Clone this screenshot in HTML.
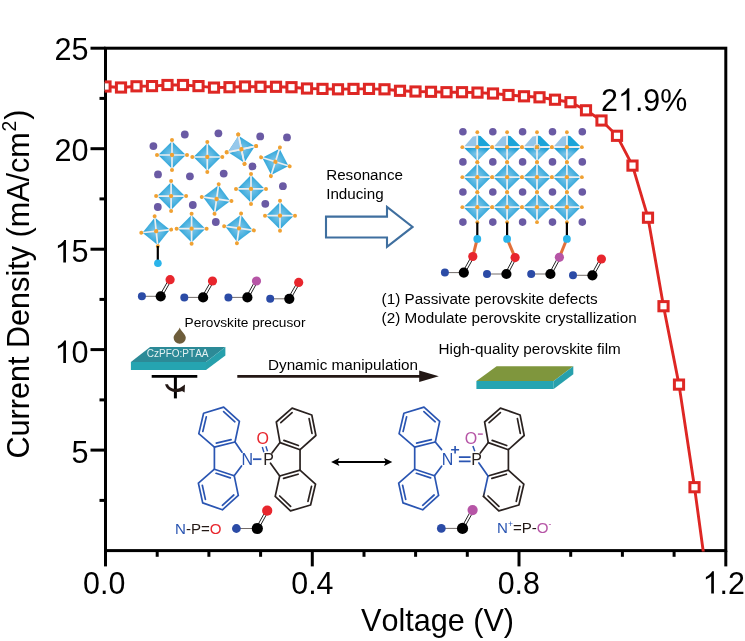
<!DOCTYPE html>
<html><head><meta charset="utf-8"><title>J-V curve</title>
<style>html,body{margin:0;padding:0;background:#fff}svg{display:block;will-change:transform;transform:translateZ(0)}text{font-family:"Liberation Sans",sans-serif;font-kerning:none}</style></head><body>
<svg width="745" height="641" viewBox="0 0 745 641">
<defs>
<radialGradient id="og" cx="50%" cy="50%" r="50%"><stop offset="0" stop-color="#86c8ea"/><stop offset="0.55" stop-color="#4fb3e0"/><stop offset="1" stop-color="#1e9fd6"/></radialGradient>
<clipPath id="plot"><rect x="104.7" y="47.4" width="621.9" height="504.0"/></clipPath>
</defs>
<rect width="745" height="641" fill="#fff"/>
<g transform="translate(172.0,155.0)"><polygon points="0,-13.8 13.8,0 0,13.8 -13.8,0" fill="url(#og)"/><path d="M0,-15V15M-15,0H15" stroke="#eceeef" stroke-width="1.7" fill="none"/><g fill="#f0a132"><circle cx="0" cy="-15" r="2"/><circle cx="15" cy="0" r="2"/><circle cx="0" cy="15" r="2"/><circle cx="-15" cy="0" r="2"/><circle cx="0" cy="0" r="2.15"/></g></g>
<g transform="translate(207.3,157.0)"><polygon points="0,-13.8 13.8,0 0,13.8 -13.8,0" fill="url(#og)"/><path d="M0,-15V15M-15,0H15" stroke="#eceeef" stroke-width="1.7" fill="none"/><g fill="#f0a132"><circle cx="0" cy="-15" r="2"/><circle cx="15" cy="0" r="2"/><circle cx="0" cy="15" r="2"/><circle cx="-15" cy="0" r="2"/><circle cx="0" cy="0" r="2.15"/></g></g>
<g transform="translate(241.4,149.2) rotate(-12.0)"><polygon points="0,-13.8 13.8,0 0,13.8 -13.8,0" fill="url(#og)"/><path d="M0,-15V15M-15,0H15" stroke="#eceeef" stroke-width="1.7" fill="none"/><g fill="#f0a132"><circle cx="0" cy="-15" r="2"/><circle cx="15" cy="0" r="2"/><circle cx="0" cy="15" r="2"/><circle cx="-15" cy="0" r="2"/><circle cx="0" cy="0" r="2.15"/></g></g>
<g transform="translate(275.4,161.8) rotate(17.5)"><polygon points="0,-13.8 13.8,0 0,13.8 -13.8,0" fill="url(#og)"/><path d="M0,-15V15M-15,0H15" stroke="#eceeef" stroke-width="1.7" fill="none"/><g fill="#f0a132"><circle cx="0" cy="-15" r="2"/><circle cx="15" cy="0" r="2"/><circle cx="0" cy="15" r="2"/><circle cx="-15" cy="0" r="2"/><circle cx="0" cy="0" r="2.15"/></g></g>
<g transform="translate(171.1,196.1)"><polygon points="0,-13.8 13.8,0 0,13.8 -13.8,0" fill="url(#og)"/><path d="M0,-15V15M-15,0H15" stroke="#eceeef" stroke-width="1.7" fill="none"/><g fill="#f0a132"><circle cx="0" cy="-15" r="2"/><circle cx="15" cy="0" r="2"/><circle cx="0" cy="15" r="2"/><circle cx="-15" cy="0" r="2"/><circle cx="0" cy="0" r="2.15"/></g></g>
<g transform="translate(216.6,199.0) rotate(8.0)"><polygon points="0,-13.8 13.8,0 0,13.8 -13.8,0" fill="url(#og)"/><path d="M0,-15V15M-15,0H15" stroke="#eceeef" stroke-width="1.7" fill="none"/><g fill="#f0a132"><circle cx="0" cy="-15" r="2"/><circle cx="15" cy="0" r="2"/><circle cx="0" cy="15" r="2"/><circle cx="-15" cy="0" r="2"/><circle cx="0" cy="0" r="2.15"/></g></g>
<g transform="translate(251.0,188.9)"><polygon points="0,-13.8 13.8,0 0,13.8 -13.8,0" fill="url(#og)"/><path d="M0,-15V15M-15,0H15" stroke="#eceeef" stroke-width="1.7" fill="none"/><g fill="#f0a132"><circle cx="0" cy="-15" r="2"/><circle cx="15" cy="0" r="2"/><circle cx="0" cy="15" r="2"/><circle cx="-15" cy="0" r="2"/><circle cx="0" cy="0" r="2.15"/></g></g>
<g transform="translate(280.0,215.7)"><polygon points="0,-13.8 13.8,0 0,13.8 -13.8,0" fill="url(#og)"/><path d="M0,-15V15M-15,0H15" stroke="#eceeef" stroke-width="1.7" fill="none"/><g fill="#f0a132"><circle cx="0" cy="-15" r="2"/><circle cx="15" cy="0" r="2"/><circle cx="0" cy="15" r="2"/><circle cx="-15" cy="0" r="2"/><circle cx="0" cy="0" r="2.15"/></g></g>
<g transform="translate(156.2,231.2) rotate(-6.0)"><polygon points="0,-13.8 13.8,0 0,13.8 -13.8,0" fill="url(#og)"/><path d="M0,-15V15M-15,0H15" stroke="#eceeef" stroke-width="1.7" fill="none"/><g fill="#f0a132"><circle cx="0" cy="-15" r="2"/><circle cx="15" cy="0" r="2"/><circle cx="0" cy="15" r="2"/><circle cx="-15" cy="0" r="2"/><circle cx="0" cy="0" r="2.15"/></g></g>
<g transform="translate(191.6,228.7)"><polygon points="0,-13.8 13.8,0 0,13.8 -13.8,0" fill="url(#og)"/><path d="M0,-15V15M-15,0H15" stroke="#eceeef" stroke-width="1.7" fill="none"/><g fill="#f0a132"><circle cx="0" cy="-15" r="2"/><circle cx="15" cy="0" r="2"/><circle cx="0" cy="15" r="2"/><circle cx="-15" cy="0" r="2"/><circle cx="0" cy="0" r="2.15"/></g></g>
<g transform="translate(239.0,228.3) rotate(8.0)"><polygon points="0,-13.8 13.8,0 0,13.8 -13.8,0" fill="url(#og)"/><path d="M0,-15V15M-15,0H15" stroke="#eceeef" stroke-width="1.7" fill="none"/><g fill="#f0a132"><circle cx="0" cy="-15" r="2"/><circle cx="15" cy="0" r="2"/><circle cx="0" cy="15" r="2"/><circle cx="-15" cy="0" r="2"/><circle cx="0" cy="0" r="2.15"/></g></g>
<g transform="translate(241.4,149.2) rotate(-12)"><polygon points="0,-13.8 -13.8,0 0,0" fill="#96c8eb"/></g>
<g transform="translate(241.4,149.2) rotate(-12.0)"><path d="M0,-15V15M-15,0H15" stroke="#eceeef" stroke-width="1.7" fill="none"/><g fill="#f0a132"><circle cx="0" cy="-15" r="2"/><circle cx="15" cy="0" r="2"/><circle cx="0" cy="15" r="2"/><circle cx="-15" cy="0" r="2"/><circle cx="0" cy="0" r="2.15"/></g></g>
<circle cx="153.4" cy="146.1" r="3.9" fill="#6a5aa4"/>
<circle cx="184.8" cy="134.5" r="3.9" fill="#6a5aa4"/>
<circle cx="218.4" cy="133.3" r="3.9" fill="#6a5aa4"/>
<circle cx="260.2" cy="136.4" r="3.9" fill="#6a5aa4"/>
<circle cx="287.0" cy="137.4" r="3.9" fill="#6a5aa4"/>
<circle cx="158.0" cy="174.4" r="3.9" fill="#6a5aa4"/>
<circle cx="189.9" cy="176.3" r="3.9" fill="#6a5aa4"/>
<circle cx="223.7" cy="173.6" r="3.9" fill="#6a5aa4"/>
<circle cx="252.5" cy="166.4" r="3.9" fill="#6a5aa4"/>
<circle cx="282.9" cy="186.2" r="3.9" fill="#6a5aa4"/>
<circle cx="157.8" cy="207.0" r="3.9" fill="#6a5aa4"/>
<circle cx="192.8" cy="205.0" r="3.9" fill="#6a5aa4"/>
<circle cx="215.8" cy="222.0" r="3.9" fill="#6a5aa4"/>
<circle cx="265.3" cy="203.8" r="3.9" fill="#6a5aa4"/>
<path d="M157.8,246V260" stroke="#000" stroke-width="2.2"/>
<circle cx="157.9" cy="263.2" r="3.8" fill="#2ab4ea"/>
<path d="M141.9,296.3L160.7,296.3" stroke="#6a6361" stroke-width="0.95"/>
<path d="M161.8,296.9L171.2,280.3M159.6,295.7L169.0,279.1" stroke="#222" stroke-width="1"/>
<circle cx="141.9" cy="296.3" r="4.0" fill="#2b4ba6"/>
<circle cx="160.7" cy="296.3" r="5.1" fill="#000"/>
<circle cx="170.1" cy="279.7" r="4.6" fill="#e8262d"/>
<path d="M184.3,297.4L203.1,297.4" stroke="#6a6361" stroke-width="0.95"/>
<path d="M204.2,298.0L213.6,281.6M202.0,296.8L211.4,280.4" stroke="#222" stroke-width="1"/>
<circle cx="184.3" cy="297.4" r="4.0" fill="#2b4ba6"/>
<circle cx="203.1" cy="297.4" r="5.1" fill="#000"/>
<circle cx="212.5" cy="281.0" r="4.6" fill="#e8262d"/>
<path d="M228.4,297.4L247.4,297.4" stroke="#6a6361" stroke-width="0.95"/>
<path d="M248.5,298.0L257.6,281.6M246.3,296.8L255.4,280.4" stroke="#222" stroke-width="1"/>
<circle cx="228.4" cy="297.4" r="4.0" fill="#2b4ba6"/>
<circle cx="247.4" cy="297.4" r="5.1" fill="#000"/>
<circle cx="256.5" cy="281.0" r="4.6" fill="#b655a6"/>
<path d="M270.2,298.8L289.3,298.8" stroke="#6a6361" stroke-width="0.95"/>
<path d="M290.4,299.4L299.8,283.0M288.2,298.2L297.6,281.8" stroke="#222" stroke-width="1"/>
<circle cx="270.2" cy="298.8" r="4.0" fill="#2b4ba6"/>
<circle cx="289.3" cy="298.8" r="5.1" fill="#000"/>
<circle cx="298.7" cy="282.4" r="4.6" fill="#e8262d"/>
<g transform="translate(477.3,147.2)"><polygon points="-13.8,0 13.8,0 0,13.8" fill="url(#og)"/><polygon points="-12.9,-1 -4.4,-10.6 -0.6,-11.2 -0.6,-0.6" fill="#93c5e9"/><polygon points="0.6,-0.6 0.6,-11.6 3.2,-11.2 13.2,-1.2" fill="#1ba4d9"/><path d="M0,-15V15M-15,0H15" stroke="#eceeef" stroke-width="1.7" fill="none"/><g fill="#f0a132"><circle cx="0" cy="-15" r="1.9"/><circle cx="15" cy="0" r="1.9"/><circle cx="0" cy="15" r="1.9"/><circle cx="-15" cy="0" r="1.9"/><circle cx="0" cy="0" r="2.1"/></g></g>
<g transform="translate(507.1,147.2)"><polygon points="-13.8,0 13.8,0 0,13.8" fill="url(#og)"/><polygon points="-12.9,-1 -4.4,-10.6 -0.6,-11.2 -0.6,-0.6" fill="#93c5e9"/><polygon points="0.6,-0.6 0.6,-11.6 3.2,-11.2 13.2,-1.2" fill="#1ba4d9"/><path d="M0,-15V15M-15,0H15" stroke="#eceeef" stroke-width="1.7" fill="none"/><g fill="#f0a132"><circle cx="0" cy="-15" r="1.9"/><circle cx="15" cy="0" r="1.9"/><circle cx="0" cy="15" r="1.9"/><circle cx="-15" cy="0" r="1.9"/><circle cx="0" cy="0" r="2.1"/></g></g>
<g transform="translate(537.0,147.2)"><polygon points="-13.8,0 13.8,0 0,13.8" fill="url(#og)"/><polygon points="-12.9,-1 -4.4,-10.6 -0.6,-11.2 -0.6,-0.6" fill="#93c5e9"/><polygon points="0.6,-0.6 0.6,-11.6 3.2,-11.2 13.2,-1.2" fill="#1ba4d9"/><path d="M0,-15V15M-15,0H15" stroke="#eceeef" stroke-width="1.7" fill="none"/><g fill="#f0a132"><circle cx="0" cy="-15" r="1.9"/><circle cx="15" cy="0" r="1.9"/><circle cx="0" cy="15" r="1.9"/><circle cx="-15" cy="0" r="1.9"/><circle cx="0" cy="0" r="2.1"/></g></g>
<g transform="translate(566.9,147.2)"><polygon points="-13.8,0 13.8,0 0,13.8" fill="url(#og)"/><polygon points="-12.9,-1 -4.4,-10.6 -0.6,-11.2 -0.6,-0.6" fill="#93c5e9"/><polygon points="0.6,-0.6 0.6,-11.6 3.2,-11.2 13.2,-1.2" fill="#1ba4d9"/><path d="M0,-15V15M-15,0H15" stroke="#eceeef" stroke-width="1.7" fill="none"/><g fill="#f0a132"><circle cx="0" cy="-15" r="1.9"/><circle cx="15" cy="0" r="1.9"/><circle cx="0" cy="15" r="1.9"/><circle cx="-15" cy="0" r="1.9"/><circle cx="0" cy="0" r="2.1"/></g></g>
<g transform="translate(477.3,177.2)"><polygon points="0,-13.8 13.8,0 0,13.8 -13.8,0" fill="url(#og)"/><path d="M0,-15V15M-15,0H15" stroke="#eceeef" stroke-width="1.7" fill="none"/><g fill="#f0a132"><circle cx="0" cy="-15" r="1.9"/><circle cx="15" cy="0" r="1.9"/><circle cx="0" cy="15" r="1.9"/><circle cx="-15" cy="0" r="1.9"/><circle cx="0" cy="0" r="2.1"/></g></g>
<g transform="translate(507.1,177.2)"><polygon points="0,-13.8 13.8,0 0,13.8 -13.8,0" fill="url(#og)"/><path d="M0,-15V15M-15,0H15" stroke="#eceeef" stroke-width="1.7" fill="none"/><g fill="#f0a132"><circle cx="0" cy="-15" r="1.9"/><circle cx="15" cy="0" r="1.9"/><circle cx="0" cy="15" r="1.9"/><circle cx="-15" cy="0" r="1.9"/><circle cx="0" cy="0" r="2.1"/></g></g>
<g transform="translate(537.0,177.2)"><polygon points="0,-13.8 13.8,0 0,13.8 -13.8,0" fill="url(#og)"/><path d="M0,-15V15M-15,0H15" stroke="#eceeef" stroke-width="1.7" fill="none"/><g fill="#f0a132"><circle cx="0" cy="-15" r="1.9"/><circle cx="15" cy="0" r="1.9"/><circle cx="0" cy="15" r="1.9"/><circle cx="-15" cy="0" r="1.9"/><circle cx="0" cy="0" r="2.1"/></g></g>
<g transform="translate(566.9,177.2)"><polygon points="0,-13.8 13.8,0 0,13.8 -13.8,0" fill="url(#og)"/><path d="M0,-15V15M-15,0H15" stroke="#eceeef" stroke-width="1.7" fill="none"/><g fill="#f0a132"><circle cx="0" cy="-15" r="1.9"/><circle cx="15" cy="0" r="1.9"/><circle cx="0" cy="15" r="1.9"/><circle cx="-15" cy="0" r="1.9"/><circle cx="0" cy="0" r="2.1"/></g></g>
<g transform="translate(477.3,207.2)"><polygon points="0,-13.8 13.8,0 0,13.8 -13.8,0" fill="url(#og)"/><path d="M0,-15V15M-15,0H15" stroke="#eceeef" stroke-width="1.7" fill="none"/><g fill="#f0a132"><circle cx="0" cy="-15" r="1.9"/><circle cx="15" cy="0" r="1.9"/><circle cx="0" cy="15" r="1.9"/><circle cx="-15" cy="0" r="1.9"/><circle cx="0" cy="0" r="2.1"/></g></g>
<g transform="translate(507.1,207.2)"><polygon points="0,-13.8 13.8,0 0,13.8 -13.8,0" fill="url(#og)"/><path d="M0,-15V15M-15,0H15" stroke="#eceeef" stroke-width="1.7" fill="none"/><g fill="#f0a132"><circle cx="0" cy="-15" r="1.9"/><circle cx="15" cy="0" r="1.9"/><circle cx="0" cy="15" r="1.9"/><circle cx="-15" cy="0" r="1.9"/><circle cx="0" cy="0" r="2.1"/></g></g>
<g transform="translate(537.0,207.2)"><polygon points="0,-13.8 13.8,0 0,13.8 -13.8,0" fill="url(#og)"/><path d="M0,-15V15M-15,0H15" stroke="#eceeef" stroke-width="1.7" fill="none"/><g fill="#f0a132"><circle cx="0" cy="-15" r="1.9"/><circle cx="15" cy="0" r="1.9"/><circle cx="0" cy="15" r="1.9"/><circle cx="-15" cy="0" r="1.9"/><circle cx="0" cy="0" r="2.1"/></g></g>
<g transform="translate(566.9,207.2)"><polygon points="0,-13.8 13.8,0 0,13.8 -13.8,0" fill="url(#og)"/><path d="M0,-15V15M-15,0H15" stroke="#eceeef" stroke-width="1.7" fill="none"/><g fill="#f0a132"><circle cx="0" cy="-15" r="1.9"/><circle cx="15" cy="0" r="1.9"/><circle cx="0" cy="15" r="1.9"/><circle cx="-15" cy="0" r="1.9"/><circle cx="0" cy="0" r="2.1"/></g></g>
<circle cx="537.0" cy="147.2" r="3.1" fill="none" stroke="#d9dcdf" stroke-width="0.9"/>
<circle cx="462.9" cy="131.8" r="3.8" fill="#6a5aa4"/>
<circle cx="462.9" cy="161.9" r="3.8" fill="#6a5aa4"/>
<circle cx="462.9" cy="192.0" r="3.8" fill="#6a5aa4"/>
<circle cx="462.9" cy="222.1" r="3.8" fill="#6a5aa4"/>
<circle cx="492.8" cy="131.8" r="3.8" fill="#6a5aa4"/>
<circle cx="492.8" cy="161.9" r="3.8" fill="#6a5aa4"/>
<circle cx="492.8" cy="192.0" r="3.8" fill="#6a5aa4"/>
<circle cx="492.8" cy="222.1" r="3.8" fill="#6a5aa4"/>
<circle cx="522.6" cy="131.8" r="3.8" fill="#6a5aa4"/>
<circle cx="522.6" cy="161.9" r="3.8" fill="#6a5aa4"/>
<circle cx="522.6" cy="192.0" r="3.8" fill="#6a5aa4"/>
<circle cx="522.6" cy="222.1" r="3.8" fill="#6a5aa4"/>
<circle cx="552.5" cy="131.8" r="3.8" fill="#6a5aa4"/>
<circle cx="552.5" cy="161.9" r="3.8" fill="#6a5aa4"/>
<circle cx="552.5" cy="192.0" r="3.8" fill="#6a5aa4"/>
<circle cx="552.5" cy="222.1" r="3.8" fill="#6a5aa4"/>
<circle cx="582.3" cy="131.8" r="3.8" fill="#6a5aa4"/>
<circle cx="582.3" cy="161.9" r="3.8" fill="#6a5aa4"/>
<circle cx="582.3" cy="192.0" r="3.8" fill="#6a5aa4"/>
<circle cx="582.3" cy="222.1" r="3.8" fill="#6a5aa4"/>
<path d="M477.3,222.5V236" stroke="#000" stroke-width="2.2"/>
<path d="M507.1,222.5V236" stroke="#000" stroke-width="2.2"/>
<path d="M566.9,222.5V236" stroke="#000" stroke-width="2.2"/>
<path d="M477.3,238.7L472.8,256.5" stroke="#e2703a" stroke-width="3"/>
<path d="M507.1,238.7L515.1,257.6" stroke="#e2703a" stroke-width="3"/>
<path d="M566.9,238.7L559.4,257.3" stroke="#e2703a" stroke-width="3"/>
<path d="M444.9,272.6L463.8,272.6" stroke="#6a6361" stroke-width="0.95"/>
<path d="M464.9,273.2L473.9,257.1M462.7,272.0L471.7,255.9" stroke="#222" stroke-width="1"/>
<circle cx="444.9" cy="272.6" r="4.0" fill="#2b4ba6"/>
<circle cx="463.8" cy="272.6" r="5.1" fill="#000"/>
<circle cx="472.8" cy="256.5" r="4.6" fill="#e8262d"/>
<path d="M487.0,274.0L506.4,274.0" stroke="#6a6361" stroke-width="0.95"/>
<path d="M507.5,274.6L516.2,258.2M505.3,273.4L514.0,257.0" stroke="#222" stroke-width="1"/>
<circle cx="487.0" cy="274.0" r="4.0" fill="#2b4ba6"/>
<circle cx="506.4" cy="274.0" r="5.1" fill="#000"/>
<circle cx="515.1" cy="257.6" r="4.6" fill="#e8262d"/>
<path d="M531.2,274.0L550.4,274.0" stroke="#6a6361" stroke-width="0.95"/>
<path d="M551.5,274.6L560.5,257.9M549.3,273.4L558.3,256.7" stroke="#222" stroke-width="1"/>
<circle cx="531.2" cy="274.0" r="4.0" fill="#2b4ba6"/>
<circle cx="550.4" cy="274.0" r="5.1" fill="#000"/>
<circle cx="559.4" cy="257.3" r="4.6" fill="#b655a6"/>
<path d="M573.0,275.3L592.4,275.3" stroke="#6a6361" stroke-width="0.95"/>
<path d="M593.5,275.9L602.5,259.6M591.3,274.7L600.3,258.4" stroke="#222" stroke-width="1"/>
<circle cx="573.0" cy="275.3" r="4.0" fill="#2b4ba6"/>
<circle cx="592.4" cy="275.3" r="5.1" fill="#000"/>
<circle cx="601.4" cy="259.0" r="4.6" fill="#e8262d"/>
<circle cx="477.3" cy="238.9" r="3.9" fill="#2ab4ea"/>
<circle cx="507.1" cy="238.9" r="3.9" fill="#2ab4ea"/>
<circle cx="566.9" cy="238.9" r="3.9" fill="#2ab4ea"/>
<g fill="#000" font-size="15.2">
<text x="326.2" y="180">Resonance</text><text x="326.2" y="198.8">Inducing</text>
</g>
<path d="M326,216.6H387V207L412.6,226.9L387,246.9V237.5H326Z" fill="#fff" stroke="#3f6f9f" stroke-width="2.1" stroke-linejoin="miter"/>
<g fill="#000" font-size="15.2">
<text x="381.6" y="303.8" font-size="15.25">(1) Passivate perovskite defects</text><text x="381.6" y="322.6" font-size="15.25">(2) Modulate perovskite crystallization</text>
<text x="184.5" y="327" font-size="13.7">Perovskite precusor</text>
<text x="268" y="370.3" font-size="15.25">Dynamic manipulation</text>
<text x="438.6" y="353.5" font-size="15.25">High-quality perovskite film</text>
</g>
<path d="M179.7,327.6 C181,331.6 185.8,334.4 185.8,337.8 A6.1,6 0 1 1 173.6,337.8 C173.6,334.4 178.4,331.6 179.7,327.6Z" fill="#6e5d3b"/>
<polygon points="150.1,347 225.4,347 206,362.1 130.9,362.1" fill="#2c8a97"/>
<polygon points="130.9,362.1 206,362.1 206,369.9 130.9,369.9" fill="#25a4b1"/>
<polygon points="206,362.1 225.4,347 225.4,355.5 206,369.9" fill="#27a0ac"/>
<text x="146.8" y="356.8" font-size="10" fill="#e4f1f2">CzPFO:PTAA</text>
<path d="M151.7,376.4H197.3" stroke="#000" stroke-width="2.8" fill="none"/>
<path d="M175.4,376.4V398.4" stroke="#000" stroke-width="3" fill="none"/>
<path d="M165.1,384.2 C166,388 169,391.3 175.2,392 C178,392.2 180.5,391.6 182,390.9 L184.6,392.4 L185,384.4 L181,387.3 C179.5,388.4 177.5,389 175.2,389 C171.5,388.8 169,387 167.9,384.2 Z" fill="#231815"/>
<path d="M237.3,376.3H420" stroke="#231815" stroke-width="2.7" fill="none"/>
<polygon points="419.2,370.5 438.8,376.2 419.2,381.9" fill="#231815"/>
<polygon points="496.6,366.3 573.3,366.3 553.7,381.1 476.4,381.1" fill="#7f963d"/>
<polygon points="476.4,381.1 553.7,381.1 553.7,389.1 476.4,389.1" fill="#25a4b1"/>
<polygon points="553.7,381.1 573.3,366.3 573.3,374.3 553.7,389.1" fill="#27a0ac"/>
<path d="M336,462H387.5" stroke="#000" stroke-width="2.1" fill="none"/>
<polygon points="331.1,462 339.4,458 337.6,462 339.4,466" fill="#000"/><polygon points="392.3,462 384,458 385.8,462 384,466" fill="#000"/>
<path d="M223.7,407.1L239.4,421.4M239.4,421.4L235.0,442.0M235.0,442.0L214.4,447.1M214.4,447.1L198.8,433.6M198.8,433.6L203.6,413.3M203.6,413.3L223.7,407.1M223.6,411.6L234.9,421.8M231.1,439.6L216.3,443.1M202.8,431.5L206.3,416.9" stroke="#2a55b2" stroke-width="1.7" fill="none" stroke-linecap="round" stroke-linejoin="round"/>
<path d="M214.4,469.2L234.2,475.7M234.2,475.7L238.3,495.4M238.3,495.4L222.4,509.8M222.4,509.8L202.7,502.9M202.7,502.9L198.4,483.2M198.4,483.2L214.4,469.2M216.1,473.3L230.3,477.9M233.8,495.0L222.4,505.3M205.4,499.4L202.3,485.3" stroke="#2a55b2" stroke-width="1.7" fill="none" stroke-linecap="round" stroke-linejoin="round"/>
<path d="M214.4,447.1V469.2M235.0,442L242.0,452.2M234.2,475.7L241.5,465.9" stroke="#2a55b2" stroke-width="1.7" fill="none" stroke-linecap="round"/>
<text x="247.3" y="464.9" font-size="16" fill="#2a55b2" text-anchor="middle">N</text>
<path d="M280.0,442.6L276.3,422.0M276.3,422.0L292.1,408.1M292.1,408.1L311.8,415.0M311.8,415.0L315.9,435.5M315.9,435.5L300.1,449.7M300.1,449.7L280.0,442.6M280.8,422.6L292.1,412.6M309.1,418.6L312.0,433.3M298.4,445.5L283.9,440.4" stroke="#2a2220" stroke-width="1.7" fill="none" stroke-linecap="round" stroke-linejoin="round"/>
<path d="M300.0,470.1L279.7,476.0M279.7,476.0L275.2,496.4M275.2,496.4L290.5,510.9M290.5,510.9L310.6,505.0M310.6,505.0L315.5,484.2M315.5,484.2L300.0,470.1M298.1,474.2L283.6,478.4M279.7,496.0L290.6,506.4M308.0,501.3L311.5,486.4" stroke="#2a2220" stroke-width="1.7" fill="none" stroke-linecap="round" stroke-linejoin="round"/>
<path d="M300.05,449.7V470.1M280,442.6L272,453M279.7,476L270.5,463.2" stroke="#2a2220" stroke-width="1.7" fill="none" stroke-linecap="round"/>
<path d="M253,459.2H261.4" stroke="#2a55b2" stroke-width="1.8" fill="none"/>
<text x="268.5" y="465" font-size="16" fill="#2a2220" text-anchor="middle">P</text>
<text x="262.7" y="443.8" font-size="16" fill="#e8262d" text-anchor="middle">O</text>
<path d="M262.3,447L263.9,452.2M265.9,446.3L267.5,451.2" stroke="#2a55b2" stroke-width="1.4" fill="none"/>
<path d="M424.0,407.1L439.7,421.4M439.7,421.4L435.3,442.0M435.3,442.0L414.7,447.1M414.7,447.1L399.1,433.6M399.1,433.6L403.9,413.3M403.9,413.3L424.0,407.1M423.9,411.6L435.2,421.8M431.4,439.6L416.6,443.1M403.1,431.5L406.6,416.9" stroke="#2a55b2" stroke-width="1.7" fill="none" stroke-linecap="round" stroke-linejoin="round"/>
<path d="M414.7,469.2L434.5,475.7M434.5,475.7L438.6,495.4M438.6,495.4L422.7,509.8M422.7,509.8L403.0,502.9M403.0,502.9L398.7,483.2M398.7,483.2L414.7,469.2M416.4,473.3L430.6,477.9M434.1,495.0L422.7,505.3M405.7,499.4L402.6,485.3" stroke="#2a55b2" stroke-width="1.7" fill="none" stroke-linecap="round" stroke-linejoin="round"/>
<path d="M414.7,447.1V469.2M435.3,442L441.6,449.6M434.5,475.7L441.6,466.2" stroke="#2a55b2" stroke-width="1.7" fill="none" stroke-linecap="round"/>
<text x="447.6" y="464.9" font-size="16" fill="#2a55b2" text-anchor="middle">N</text>
<path d="M488.3,442.6L484.6,422.0M484.6,422.0L500.4,408.1M500.4,408.1L520.1,415.0M520.1,415.0L524.2,435.5M524.2,435.5L508.4,449.7M508.4,449.7L488.3,442.6M489.1,422.6L500.4,412.6M517.4,418.6L520.3,433.3M506.7,445.5L492.2,440.4" stroke="#2a2220" stroke-width="1.7" fill="none" stroke-linecap="round" stroke-linejoin="round"/>
<path d="M508.3,470.1L488.0,476.0M483.5,496.4L498.8,510.9M498.8,510.9L518.9,505.0M518.9,505.0L523.8,484.2M523.8,484.2L508.3,470.1M506.4,474.2L491.9,478.4M488.0,496.0L498.9,506.4M516.3,501.3L519.8,486.4" stroke="#2a2220" stroke-width="1.7" fill="none" stroke-linecap="round" stroke-linejoin="round"/>
<path d="M508.4,449.7V470.1M488.3,442.6L480.3,453" stroke="#2a2220" stroke-width="1.7" fill="none" stroke-linecap="round"/>
<defs><linearGradient id="bk" gradientUnits="userSpaceOnUse" x1="487.3" y1="475.7" x2="483.5" y2="496.4"><stop offset="0.6" stop-color="#2a55b2"/><stop offset="1" stop-color="#2a2220"/></linearGradient></defs>
<path d="M488.0,476L483.5,496.4" stroke="url(#bk)" stroke-width="1.7" fill="none" stroke-linecap="round"/>
<path d="M488.0,476L478.9,463" stroke="#2a55b2" stroke-width="1.7" fill="none" stroke-linecap="round"/>
<path d="M458.9,457.1H470.6M458.9,461.4H470.6" stroke="#2a55b2" stroke-width="1.6" fill="none"/>
<path d="M451.1,449.8H459.1M455.1,446V453.6" stroke="#2a55b2" stroke-width="1.6" fill="none"/>
<text x="476.7" y="465" font-size="16" fill="#2a2220" text-anchor="middle">P</text>
<text x="471" y="443.8" font-size="16" fill="#b655a6" text-anchor="middle">O</text>
<path d="M477.9,434.1H482.8" stroke="#b655a6" stroke-width="1.4" fill="none"/>
<path d="M472.9,446.1L474.8,451.2" stroke="#2a55b2" stroke-width="1.5" fill="none"/>
<text x="175" y="533.5" font-size="15.1"><tspan fill="#2a55b2">N</tspan><tspan fill="#231815">-P=</tspan><tspan fill="#e8262d">O</tspan></text>
<path d="M236.4,528.5L257.3,528.5" stroke="#6a6361" stroke-width="0.95"/>
<path d="M258.4,529.1L268.3,511.3M256.2,527.9L266.1,510.1" stroke="#222" stroke-width="1"/>
<circle cx="236.4" cy="528.5" r="4.4" fill="#2b4ba6"/>
<circle cx="257.3" cy="528.5" r="5.6" fill="#000"/>
<circle cx="267.2" cy="510.7" r="5.1" fill="#e8262d"/>
<path d="M441.3,528.4L462.5,528.4" stroke="#6a6361" stroke-width="0.95"/>
<path d="M463.6,529.0L473.7,510.7M461.4,527.8L471.5,509.5" stroke="#222" stroke-width="1"/>
<circle cx="441.3" cy="528.4" r="4.4" fill="#2b4ba6"/>
<circle cx="462.5" cy="528.4" r="5.6" fill="#000"/>
<circle cx="472.6" cy="510.1" r="5.1" fill="#b655a6"/>
<text x="497" y="532.7" font-size="15.1"><tspan fill="#2a55b2">N</tspan><tspan fill="#2a55b2" font-size="8.5" dy="-6">+</tspan><tspan fill="#231815" dy="6">=P-</tspan><tspan fill="#b655a6">O</tspan><tspan fill="#b655a6" font-size="8.5" dy="-6">-</tspan></text>
<g stroke="#000" stroke-width="3" fill="none" stroke-linecap="butt">
<rect x="105.5" y="48.2" width="620.3" height="502.4"/>
<path d="M105.5,550.6v15.8"/>
<path d="M157.2,550.6v6.2"/>
<path d="M208.9,550.6v6.2"/>
<path d="M260.6,550.6v6.2"/>
<path d="M312.3,550.6v15.8"/>
<path d="M364.0,550.6v6.2"/>
<path d="M415.6,550.6v6.2"/>
<path d="M467.3,550.6v6.2"/>
<path d="M519.0,550.6v15.8"/>
<path d="M570.7,550.6v6.2"/>
<path d="M622.4,550.6v6.2"/>
<path d="M674.1,550.6v6.2"/>
<path d="M725.8,550.6v15.8"/>
<path d="M105.5,500.4h-6.0"/>
<path d="M105.5,450.1h-15.0"/>
<path d="M105.5,399.9h-6.0"/>
<path d="M105.5,349.6h-15.0"/>
<path d="M105.5,299.4h-6.0"/>
<path d="M105.5,249.2h-15.0"/>
<path d="M105.5,198.9h-6.0"/>
<path d="M105.5,148.7h-15.0"/>
<path d="M105.5,98.4h-6.0"/>
<path d="M105.5,48.2h-15.0"/>
</g>
<g clip-path="url(#plot)">
<polyline fill="none" stroke="#de2724" stroke-width="2.9" stroke-linejoin="round" points="105.5,86.5 121.0,87.5 136.5,86.3 152.0,86.1 167.5,85.0 183.0,85.0 198.5,86.1 214.0,87.6 229.5,87.2 245.0,86.5 260.5,86.8 276.0,86.8 291.5,87.2 307.0,88.5 322.5,88.9 338.0,89.3 353.5,88.9 369.0,88.9 384.5,89.3 400.0,90.8 415.5,91.5 431.0,91.8 446.5,92.2 462.0,92.2 477.5,92.6 493.0,93.5 508.5,95.0 524.0,96.3 539.5,97.3 555.0,99.7 570.5,102.2 586.0,110.3 601.5,120.5 617.0,135.8 632.5,165.6 648.0,217.7 663.5,306.2 679.0,384.6 694.5,487.2 710.0,601.0"/>
<rect x="100.9" y="81.9" width="9.2" height="9.2" fill="#fff" stroke="#de2724" stroke-width="3.0"/>
<rect x="116.4" y="82.9" width="9.2" height="9.2" fill="#fff" stroke="#de2724" stroke-width="3.0"/>
<rect x="131.9" y="81.7" width="9.2" height="9.2" fill="#fff" stroke="#de2724" stroke-width="3.0"/>
<rect x="147.4" y="81.5" width="9.2" height="9.2" fill="#fff" stroke="#de2724" stroke-width="3.0"/>
<rect x="162.9" y="80.4" width="9.2" height="9.2" fill="#fff" stroke="#de2724" stroke-width="3.0"/>
<rect x="178.4" y="80.4" width="9.2" height="9.2" fill="#fff" stroke="#de2724" stroke-width="3.0"/>
<rect x="193.9" y="81.5" width="9.2" height="9.2" fill="#fff" stroke="#de2724" stroke-width="3.0"/>
<rect x="209.4" y="83.0" width="9.2" height="9.2" fill="#fff" stroke="#de2724" stroke-width="3.0"/>
<rect x="224.9" y="82.6" width="9.2" height="9.2" fill="#fff" stroke="#de2724" stroke-width="3.0"/>
<rect x="240.4" y="81.9" width="9.2" height="9.2" fill="#fff" stroke="#de2724" stroke-width="3.0"/>
<rect x="255.9" y="82.2" width="9.2" height="9.2" fill="#fff" stroke="#de2724" stroke-width="3.0"/>
<rect x="271.4" y="82.2" width="9.2" height="9.2" fill="#fff" stroke="#de2724" stroke-width="3.0"/>
<rect x="286.9" y="82.6" width="9.2" height="9.2" fill="#fff" stroke="#de2724" stroke-width="3.0"/>
<rect x="302.4" y="83.9" width="9.2" height="9.2" fill="#fff" stroke="#de2724" stroke-width="3.0"/>
<rect x="317.9" y="84.3" width="9.2" height="9.2" fill="#fff" stroke="#de2724" stroke-width="3.0"/>
<rect x="333.4" y="84.7" width="9.2" height="9.2" fill="#fff" stroke="#de2724" stroke-width="3.0"/>
<rect x="348.9" y="84.3" width="9.2" height="9.2" fill="#fff" stroke="#de2724" stroke-width="3.0"/>
<rect x="364.4" y="84.3" width="9.2" height="9.2" fill="#fff" stroke="#de2724" stroke-width="3.0"/>
<rect x="379.9" y="84.7" width="9.2" height="9.2" fill="#fff" stroke="#de2724" stroke-width="3.0"/>
<rect x="395.4" y="86.2" width="9.2" height="9.2" fill="#fff" stroke="#de2724" stroke-width="3.0"/>
<rect x="410.9" y="86.9" width="9.2" height="9.2" fill="#fff" stroke="#de2724" stroke-width="3.0"/>
<rect x="426.4" y="87.2" width="9.2" height="9.2" fill="#fff" stroke="#de2724" stroke-width="3.0"/>
<rect x="441.9" y="87.6" width="9.2" height="9.2" fill="#fff" stroke="#de2724" stroke-width="3.0"/>
<rect x="457.4" y="87.6" width="9.2" height="9.2" fill="#fff" stroke="#de2724" stroke-width="3.0"/>
<rect x="472.9" y="88.0" width="9.2" height="9.2" fill="#fff" stroke="#de2724" stroke-width="3.0"/>
<rect x="488.4" y="88.9" width="9.2" height="9.2" fill="#fff" stroke="#de2724" stroke-width="3.0"/>
<rect x="503.9" y="90.4" width="9.2" height="9.2" fill="#fff" stroke="#de2724" stroke-width="3.0"/>
<rect x="519.4" y="91.7" width="9.2" height="9.2" fill="#fff" stroke="#de2724" stroke-width="3.0"/>
<rect x="534.9" y="92.7" width="9.2" height="9.2" fill="#fff" stroke="#de2724" stroke-width="3.0"/>
<rect x="550.4" y="95.1" width="9.2" height="9.2" fill="#fff" stroke="#de2724" stroke-width="3.0"/>
<rect x="565.9" y="97.6" width="9.2" height="9.2" fill="#fff" stroke="#de2724" stroke-width="3.0"/>
<rect x="581.4" y="105.7" width="9.2" height="9.2" fill="#fff" stroke="#de2724" stroke-width="3.0"/>
<rect x="596.9" y="115.9" width="9.2" height="9.2" fill="#fff" stroke="#de2724" stroke-width="3.0"/>
<rect x="612.4" y="131.2" width="9.2" height="9.2" fill="#fff" stroke="#de2724" stroke-width="3.0"/>
<rect x="627.9" y="161.0" width="9.2" height="9.2" fill="#fff" stroke="#de2724" stroke-width="3.0"/>
<rect x="643.4" y="213.1" width="9.2" height="9.2" fill="#fff" stroke="#de2724" stroke-width="3.0"/>
<rect x="658.9" y="301.6" width="9.2" height="9.2" fill="#fff" stroke="#de2724" stroke-width="3.0"/>
<rect x="674.4" y="380.0" width="9.2" height="9.2" fill="#fff" stroke="#de2724" stroke-width="3.0"/>
<rect x="689.9" y="482.6" width="9.2" height="9.2" fill="#fff" stroke="#de2724" stroke-width="3.0"/>
</g>
<g fill="#000">
<text transform="translate(104.2,593.6) scale(1,1.02)" text-anchor="middle" font-size="30.4">0.0</text>
<text transform="translate(312.4,593.6) scale(1,1.02)" text-anchor="middle" font-size="30.4">0.4</text>
<text transform="translate(518.8,593.6) scale(1,1.02)" text-anchor="middle" font-size="30.4">0.8</text>
<g transform="translate(702.57,593.6) scale(1,1.02)">
<path transform="translate(0.00,0) scale(30.4)" d="M.3726,0H.2847V-.56Q.253,-.5298 .2014,-.4995Q.1499,-.4692 .1089,-.4541V-.539Q.1826,-.5737 .2378,-.623Q.293,-.6724 .3159,-.7188H.3726Z"/>
<text x="16.90" y="0" font-size="30.4">.</text>
<text x="25.35" y="0" font-size="30.4">2</text>
</g>
<text transform="translate(88.6,462.9) scale(1,1.02)" text-anchor="end" font-size="30.6">5</text>
<g transform="translate(54.57,362.9) scale(1,1.02)">
<path transform="translate(0.00,0) scale(30.6)" d="M.3726,0H.2847V-.56Q.253,-.5298 .2014,-.4995Q.1499,-.4692 .1089,-.4541V-.539Q.1826,-.5737 .2378,-.623Q.293,-.6724 .3159,-.7188H.3726Z"/>
<text x="17.01" y="0" font-size="30.6">0</text>
</g>
<g transform="translate(54.57,262.4) scale(1,1.02)">
<path transform="translate(0.00,0) scale(30.6)" d="M.3726,0H.2847V-.56Q.253,-.5298 .2014,-.4995Q.1499,-.4692 .1089,-.4541V-.539Q.1826,-.5737 .2378,-.623Q.293,-.6724 .3159,-.7188H.3726Z"/>
<text x="17.01" y="0" font-size="30.6">5</text>
</g>
<text transform="translate(88.6,160.6) scale(1,1.02)" text-anchor="end" font-size="30.6">20</text>
<text transform="translate(88.6,59.8) scale(1,1.02)" text-anchor="end" font-size="30.6">25</text>
<text transform="translate(437.5,630.7) scale(1,1.02)" text-anchor="middle" font-size="30.6">Voltage (V)</text>
<text transform="translate(29.3,284) rotate(-90) scale(1,1.02)" text-anchor="middle" font-size="30.6">Current Density (mA/cm<tspan font-size="19.3" dy="-13" dx="0.8">2</tspan><tspan dy="10.5" dx="1">)</tspan></text>
<g transform="translate(601.10,110.6) scale(1,1.02)">
<text x="0.00" y="0" font-size="30.4">2</text>
<path transform="translate(16.90,0) scale(30.4)" d="M.3726,0H.2847V-.56Q.253,-.5298 .2014,-.4995Q.1499,-.4692 .1089,-.4541V-.539Q.1826,-.5737 .2378,-.623Q.293,-.6724 .3159,-.7188H.3726Z"/>
<text x="33.80" y="0" font-size="30.4">.</text>
<text x="42.26" y="0" font-size="30.4">9</text>
<text x="59.16" y="0" font-size="30.4">%</text>
</g>
</g>
</svg></body></html>
